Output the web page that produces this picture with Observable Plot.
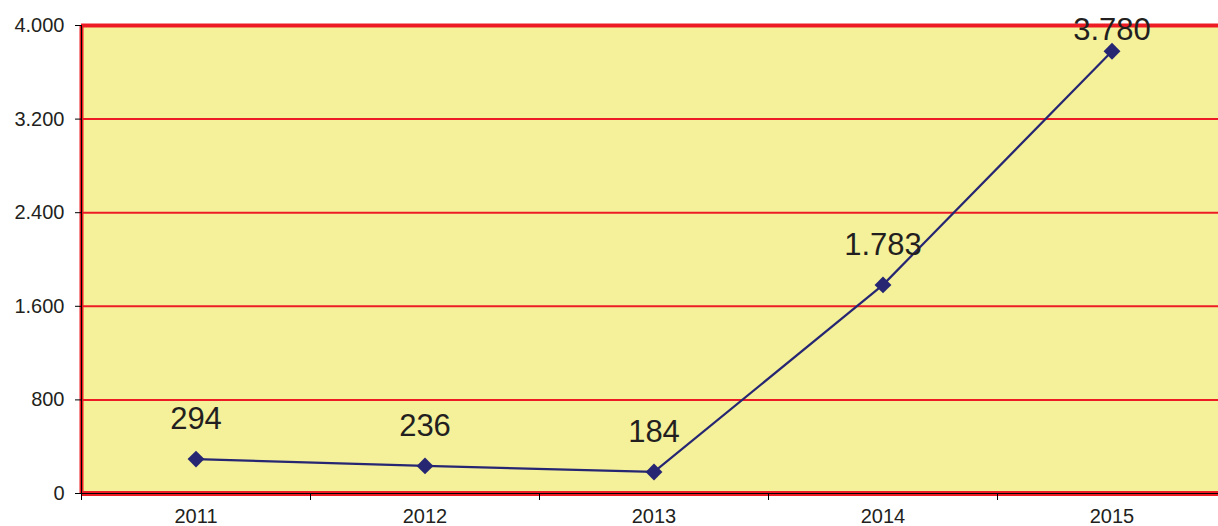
<!DOCTYPE html>
<html><head><meta charset="utf-8">
<script src="https://cdn.jsdelivr.net/npm/d3@7"></script>
<script src="https://cdn.jsdelivr.net/npm/@observablehq/plot@0.6"></script>
<style>html,body{margin:0;padding:0;background:#fff;overflow:hidden}</style>
</head><body><div id="chart"></div>
<script>
const years = [2011, 2012, 2013, 2014, 2015];
const values = [294, 236, 184, 1783, 3780];
const yTicks = [0, 800, 1600, 2400, 3200, 4000];

const data = years.map((year, i) => ({year, value: values[i]}));
const edges = [years[0] - 0.5, ...years.map(y => y + 0.5)];
const fmt = d3.formatLocale({decimal: ",", thousands: ".", grouping: [3], currency: ["", ""]}).format(",");
const red = "#ed1c24";
const navy = "#262673";
const ink = "#231f20";

const chart = Plot.plot({
  width: 1218, height: 526,
  marginLeft: 81, marginRight: 0, marginTop: 25, marginBottom: 33,
  style: {fontFamily: "'Liberation Sans', Arial, sans-serif", color: ink, background: "#fff", overflow: "hidden"},
  x: {domain: [edges[0], edges[edges.length - 1]], range: [81, 1226]},
  y: {domain: [0, 4000]},
  marks: [
    Plot.frame({fill: "#f5f19a", stroke: "none"}),
    Plot.ruleY(yTicks.slice(1, -1), {stroke: red, strokeWidth: 2}),
    Plot.ruleY([yTicks[yTicks.length - 1]], {stroke: red, strokeWidth: 4}),
    Plot.ruleY([0], {stroke: red, strokeWidth: 5}),
    Plot.ruleX([edges[0]], {stroke: red, strokeWidth: 4}),
    Plot.ruleY([0], {stroke: "#000", strokeWidth: 1}),
    Plot.ruleX([edges[0]], {stroke: "#000", strokeWidth: 1}),
    Plot.line(data, {x: "year", y: "value", stroke: navy, strokeWidth: 2.2}),
    Plot.dot(data, {x: "year", y: "value", symbol: "diamond2", r: 7.6, fill: navy, stroke: "none"}),
    Plot.text(data.filter(d => d.value < 3500), {x: "year", y: "value", text: d => fmt(d.value), dy: -40, fontSize: 31, fill: ink}),
    Plot.text(data.filter(d => d.value >= 3500), {x: "year", y: "value", text: d => fmt(d.value), dy: -21, fontSize: 31, fill: ink}),
    Plot.axisY(yTicks, {tickSize: 6, tickPadding: 11, tickFormat: fmt, fontSize: 20, stroke: "#000", fill: ink, label: null}),
    Plot.axisX(edges, {tickSize: 7, tickFormat: () => "", stroke: "#000", label: null}),
    Plot.axisX(years, {tickSize: 0, tickPadding: 15, tickFormat: d => String(d), fontSize: 20, fill: ink, label: null})
  ]
});
document.getElementById("chart").appendChild(chart);
</script>
</body></html>
